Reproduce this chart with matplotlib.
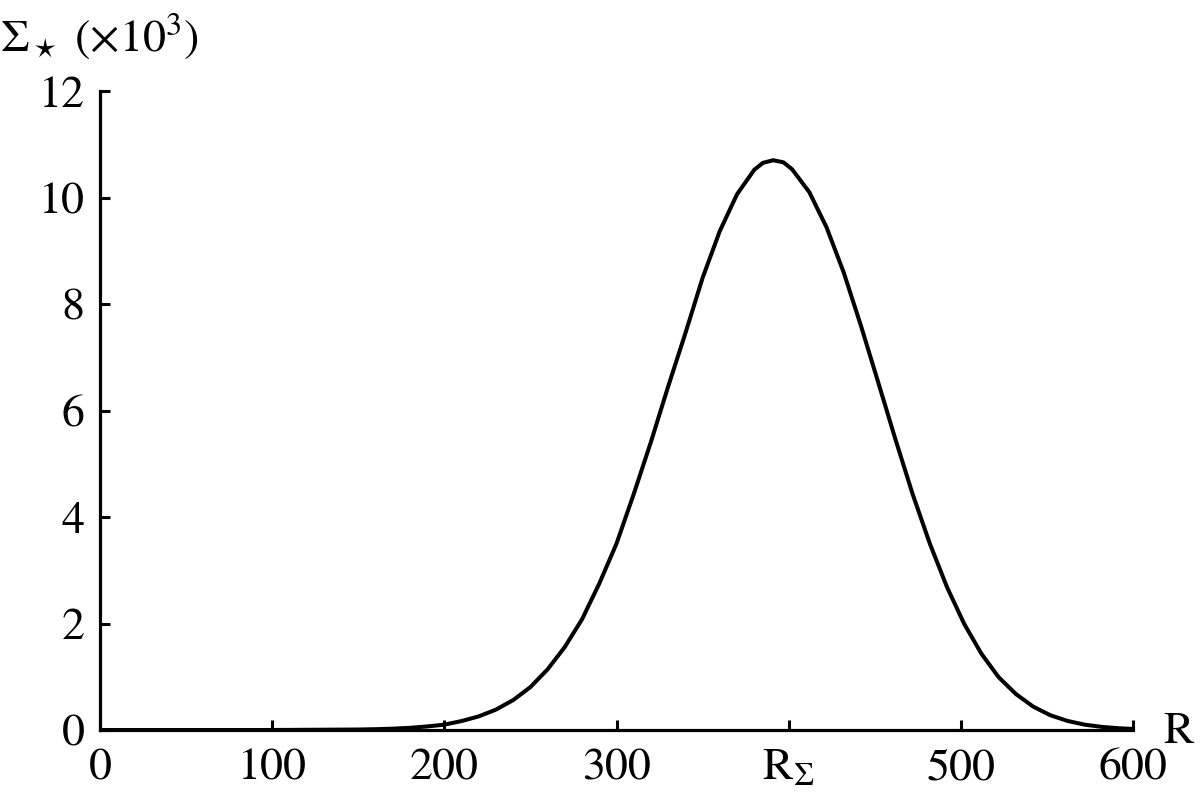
import matplotlib
matplotlib.use("Agg")
import matplotlib.pyplot as plt

plt.rcParams['font.family'] = ['STIXGeneral', 'DejaVu Serif']
plt.rcParams['mathtext.fontset'] = 'stix'

R_values = [0, 50, 100, 150, 160, 170, 180, 190, 200, 210, 220, 230, 240, 250, 260,
            270, 280, 290, 300, 310, 320, 330, 340, 350, 360, 370, 380, 385, 391,
            397, 402, 412, 422, 432, 442, 452, 462, 472, 482, 492, 502, 512, 522,
            532, 542, 552, 562, 572, 582, 592, 600]
Sigma_values = [0.0, 0.0, 0.0, 0.009, 0.015, 0.025, 0.041, 0.067, 0.10, 0.168, 0.256,
                0.383, 0.562, 0.806, 1.14, 1.56, 2.08, 2.75, 3.50, 4.43, 5.41, 6.45,
                7.45, 8.49, 9.37, 10.06, 10.52, 10.65, 10.70, 10.66, 10.53, 10.10,
                9.44, 8.59, 7.59, 6.53, 5.46, 4.43, 3.50, 2.68, 1.99, 1.43, 0.99,
                0.675, 0.44, 0.277, 0.170, 0.100, 0.058, 0.032, 0.02]

x_ticks = [0, 100, 200, 300, 400, 500, 600]
x_ticklabels = ['0', '100', '200', '300', r'R$_\Sigma$', '500', '600']
y_ticks = [0, 2, 4, 6, 8, 10, 12]
y_ticklabels = ['0', '2', '4', '6', '8', '10', '12']

fig = plt.figure(figsize=(12, 7.99), dpi=100)
ax = fig.add_axes([100/1200, 1 - 730/799, 1033/1200, (730 - 91)/799])

ax.plot(R_values, Sigma_values, color='black', lw=2.9, solid_capstyle='round',
        solid_joinstyle='round')

ax.set_xlim(0, 600)
ax.set_ylim(0, 12)
for s in ['top', 'right']:
    ax.spines[s].set_visible(False)
for s in ['left', 'bottom']:
    ax.spines[s].set_linewidth(2.3)

ax.set_xticks(x_ticks)
ax.set_xticklabels(x_ticklabels)
ax.set_yticks(y_ticks)
ax.set_yticklabels(y_ticklabels)
ax.tick_params(axis='both', direction='in', length=7.5, width=2.2, labelsize=33, colors='black')
ax.tick_params(axis='x', pad=13)
ax.tick_params(axis='y', pad=11)

fig.text(0/1200, 1 - 51/799, r'$\Sigma_\star$ (×10$^3$)', fontsize=33, ha='left', va='baseline')
fig.text(1163/1200, 1 - 743/799, 'R', fontsize=33, ha='left', va='baseline')

fig.savefig('out.png', dpi=100, facecolor='white')
